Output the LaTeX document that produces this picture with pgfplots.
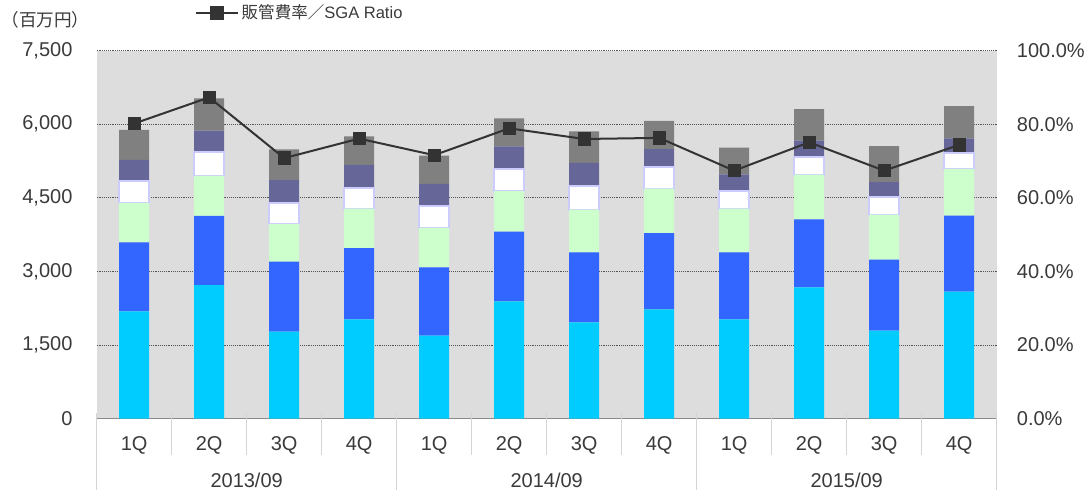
\documentclass[border=0pt]{standalone}
\usepackage{pgfplots}
\pgfplotsset{compat=1.18}
\usepackage{pgfplotstable}
\usepackage{fontspec}
\setmainfont{Liberation Sans}
\newfontfamily\cjk{Noto Sans CJK JP}
\definecolor{cCyan}{HTML}{00CCFF}
\definecolor{cBlue}{HTML}{3366FF}
\definecolor{cGreen}{HTML}{CCFFCC}
\definecolor{cLav}{HTML}{CCCCFF}
\definecolor{cPurple}{HTML}{666699}
\definecolor{cGray}{HTML}{808080}
\definecolor{bg}{HTML}{DDDDDD}
\definecolor{txt}{HTML}{3A3A3A}
\definecolor{sepc}{HTML}{D4D4D4}
\definecolor{axg}{HTML}{8A8A8A}
\definecolor{lineC}{HTML}{333333}
\definecolor{gridc}{HTML}{555555}

\pgfplotstableread{
x cyan blue green white purple gray ratio
0 2187 1407 802 455 422 611 80.2
1 2724 1407 815 489 435 658 87.3
2 1773 1427 767 429 468 625 70.8
3 2025 1453 802 414 476 584 76.1
4 1692 1392 802 442 455 577 71.6
5 2391 1420 829 455 455 571 78.9
6 1963 1427 869 483 469 645 76.0
7 2228 1556 903 442 367 571 76.3
8 2025 1365 890 360 339 544 67.4
9 2677 1385 911 360 333 645 75.1
10 1793 1447 918 360 305 734 67.4
11 2588 1549 952 318 306 659 74.4
}\data

\begin{document}
\begin{tikzpicture}
\useasboundingbox (-72.5pt,-53.75pt) rectangle (743.5pt,314pt);
\begin{axis}[
  scale only axis, width=675pt, height=276pt,
  xmin=-0.5, xmax=11.5, ymin=0, ymax=7500,
  enlargelimits=false,
  axis background/.style={fill=bg},
  axis line style={draw=none},
  ybar stacked, bar width=22.5pt,
  ytick={0,1500,3000,4500,6000,7500},
  ymajorgrids, major grid style={gridc, densely dotted, line width=0.6pt},
  major tick length=0pt,
  /pgf/number format/assume math mode=true,
  ticklabel style={font=\fontsize{15}{18}\selectfont, text=txt, inner sep=0pt},
  yticklabel style={/pgf/number format/fixed, /pgf/number format/1000 sep={,}, anchor=east, xshift=-18pt},
  xtick={0,...,11},
  xticklabels={1Q,2Q,3Q,4Q,1Q,2Q,3Q,4Q,1Q,2Q,3Q,4Q},
  xticklabel style={anchor=base, yshift=-23.8pt},
  extra x ticks={1.5,5.5,9.5},
  extra x tick labels={2013/09,2014/09,2015/09},
  extra x tick style={grid=none, major tick length=0pt, xticklabel style={anchor=base, yshift=-27.9pt}},
  clip=false,
]
\addplot[fill=cCyan, draw=none] table[x=x, y=cyan] {\data};
\addplot[fill=cBlue, draw=none] table[x=x, y=blue] {\data};
\addplot[fill=cGreen, draw=none] table[x=x, y=green] {\data};
\addplot[fill=white, draw=cLav, line width=1.5pt] table[x=x, y=white] {\data};
\addplot[fill=cPurple, draw=none] table[x=x, y=purple] {\data};
\addplot[fill=cGray, draw=none] table[x=x, y=gray] {\data};
\pgfplotsinvokeforeach{0.5,1.5,2.5,4.5,5.5,6.5,8.5,9.5,10.5}{
  \draw[sepc, line width=0.75pt] (axis cs:#1,0) ++(0pt,4.5pt) -- ++(0pt,-32pt);
}
\pgfplotsinvokeforeach{-0.5,3.5,7.5,11.5}{
  \draw[sepc, line width=0.75pt] (axis cs:#1,0) ++(0pt,4.5pt) -- ++(0pt,-58.25pt);
}
\draw[axg, line width=1pt] (rel axis cs:0,0) -- (rel axis cs:1,0);
\node[anchor=west, inner sep=0pt, text=txt, font=\fontsize{13.2}{15}\selectfont, xshift=-71.5pt, yshift=23pt] at (rel axis cs:0,1) {\cjk （百万円）};
\end{axis}
\begin{axis}[
  scale only axis, width=675pt, height=276pt,
  xmin=-0.5, xmax=11.5, ymin=0, ymax=100,
  enlargelimits=false,
  hide x axis,
  axis line style={draw=none},
  major tick length=0pt,
  ytick={0,20,40,60,80,100},
  yticklabel pos=right,
  /pgf/number format/assume math mode=true,
  yticklabel={\pgfmathprintnumber[fixed,fixed zerofill,precision=1]{\tick}\%},
  ticklabel style={font=\fontsize{15}{18}\selectfont, text=txt, inner sep=0pt},
  yticklabel style={anchor=west, xshift=15pt},
  legend image code/.code={\draw[mark repeat=2,mark phase=2,#1] plot coordinates {(0pt,0pt) (15.75pt,0pt) (31.5pt,0pt)};},
  legend style={at={(axis description cs:0.109,1.1025)}, anchor=west, draw=none, fill=none, inner sep=0pt, font=\fontsize{12.4}{14}\selectfont, text=txt},
  legend cell align=left,
  clip=false,
]
\addplot[lineC, line width=1.5pt, mark=square*, mark size=4.6pt, mark options={fill=lineC, draw=lineC, line width=0pt}] table[x=x, y=ratio] {\data};
\addlegendentry{{\cjk 販管費率／}SGA Ratio}
\end{axis}
\end{tikzpicture}
\end{document}
